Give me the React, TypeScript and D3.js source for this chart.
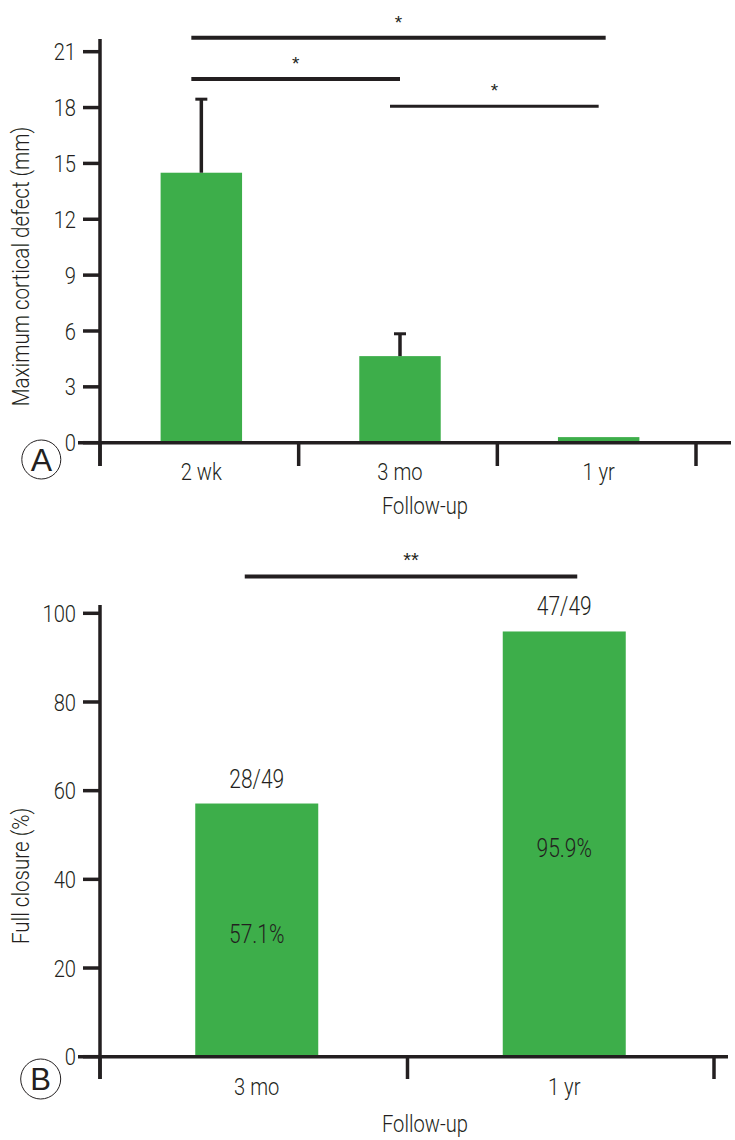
import React from "react";
import * as d3 from "d3";

// ---------- Data ----------
const catsA = ["2 wk", "3 mo", "1 yr"];
const meanA = [14.5, 4.65, 0.3];
const sdA = [3.95, 1.2, 0];
const ticksA = [0, 3, 6, 9, 12, 15, 18, 21];
const sigA = [
  { a: 0, b: 2, y: 21.75, label: "*", w: 4 },
  { a: 0, b: 1, y: 19.53, label: "*", w: 4 },
  { a: 1, b: 2, y: 18.07, label: "*", w: 3 },
];

const catsB = ["3 mo", "1 yr"];
const valB = [57.1, 95.9];
const fracB = ["28/49", "47/49"];
const pctB = ["57.1%", "95.9%"];
const ticksB = [0, 20, 40, 60, 80, 100];
const sigB = [{ a: 0, b: 1, y: 108.3, label: "**", w: 4 }];

const GREEN = "#3dae4a";
const INK = "#231f20";
const FONT = "Roboto, 'Liberation Sans', sans-serif";
const FONT_REG = "'Liberation Sans', Arial, sans-serif";
const SX = 0.84;

type TProps = {
  x: number;
  y: number;
  size: number;
  anchor?: "start" | "middle" | "end";
  rotate?: number;
  dy?: string;
  children: React.ReactNode;
};

function T({ x, y, size, anchor = "middle", rotate = 0, dy, children }: TProps) {
  return (
    <text
      transform={`translate(${x},${y}) rotate(${rotate}) scale(${SX},1)`}
      textAnchor={anchor}
      dy={dy}
      fontFamily={FONT}
      fontWeight={300}
      fontSize={size}
      fill={INK}
    >
      {children}
    </text>
  );
}

export default function App() {
  // Panel A scales
  const xA = d3.scaleBand<string>().domain(catsA).range([100, 696]).padding(0);
  const yA = d3.scaleLinear().domain([0, 21]).range([442.7, 51.7]);
  const cxA = (i: number) => (xA(catsA[i]) as number) + xA.bandwidth() / 2 + 2;
  const bwA = xA.bandwidth() * 0.41;

  // Panel B scales
  const xB = d3.scaleBand<string>().domain(catsB).range([100, 715]).padding(0);
  const yB = d3.scaleLinear().domain([0, 100]).range([1056.7, 613.3]);
  const cxB = (i: number) => (xB(catsB[i]) as number) + xB.bandwidth() / 2 + 3;
  const bwB = xB.bandwidth() * 0.4;

  const bandEdgesA = [...catsA.map((c) => xA(c) as number), 696];
  const bandEdgesB = [...catsB.map((c) => xB(c) as number), 714];

  return (
    <svg
      width={735}
      height={1140}
      style={{ position: "absolute", left: 0, top: 0, display: "block", background: "#fff" }}
    >
      {/* ================= Panel A ================= */}
      <g>
        {catsA.map((c, i) => (
          <rect
            key={c}
            x={cxA(i) - bwA / 2}
            y={yA(meanA[i])}
            width={bwA}
            height={yA(0) - yA(meanA[i])}
            fill={GREEN}
          />
        ))}
        {catsA.map((c, i) =>
          sdA[i] > 0 ? (
            <g key={"e" + c}>
              <line
                x1={cxA(i)}
                x2={cxA(i)}
                y1={yA(meanA[i])}
                y2={yA(meanA[i] + sdA[i])}
                stroke={INK}
                strokeWidth={3.5}
              />
              <line
                x1={cxA(i) - 6}
                x2={cxA(i) + 6}
                y1={yA(meanA[i] + sdA[i])}
                y2={yA(meanA[i] + sdA[i])}
                stroke={INK}
                strokeWidth={3}
              />
            </g>
          ) : null
        )}
        <line x1={100} x2={100} y1={39} y2={466} stroke={INK} strokeWidth={3.5} />
        {ticksA.map((t) => (
          <g key={"ta" + t}>
            <line x1={83} x2={100} y1={yA(t)} y2={yA(t)} stroke={INK} strokeWidth={3.5} />
            <T x={76} y={yA(t)} dy="0.36em" anchor="end" size={24}>
              {t}
            </T>
          </g>
        ))}
        <line x1={78} x2={731} y1={yA(0)} y2={yA(0)} stroke={INK} strokeWidth={3.5} />
        {bandEdgesA.map((x, i) => (
          <line key={"xa" + i} x1={x} x2={x} y1={yA(0)} y2={466} stroke={INK} strokeWidth={3.5} />
        ))}
        {catsA.map((c, i) => (
          <T key={"la" + c} x={cxA(i)} y={480} size={24}>
            {c}
          </T>
        ))}
        <T x={425} y={514} size={24}>
          Follow-up
        </T>
        <T x={29} y={266.5} rotate={-90} size={24.5}>
          Maximum cortical defect (mm)
        </T>
        {sigA.map((s, i) => {
          const x1 = cxA(s.a) - 10;
          const x2 = cxA(s.b) + (s.b === catsA.length - 1 && s.a === 0 ? 7 : 0);
          return (
            <g key={"sa" + i}>
              <line x1={x1} x2={x2} y1={yA(s.y)} y2={yA(s.y)} stroke={INK} strokeWidth={s.w} />
              <text
                x={(x1 + x2) / 2}
                y={yA(s.y) - 9}
                textAnchor="middle"
                fontFamily={FONT_REG}
                fontSize={19}
                fill={INK}
              >
                {s.label}
              </text>
            </g>
          );
        })}
        <circle cx={41.3} cy={459.5} r={19.5} fill="none" stroke={INK} strokeWidth={1} />
        <text
          x={41.3}
          y={459.5}
          dy="0.36em"
          textAnchor="middle"
          fontFamily={FONT_REG}
          fontSize={32}
          fill={INK}
        >
          A
        </text>
      </g>

      {/* ================= Panel B ================= */}
      <g>
        {catsB.map((c, i) => (
          <rect
            key={c}
            x={cxB(i) - bwB / 2}
            y={yB(valB[i])}
            width={bwB}
            height={yB(0) - yB(valB[i])}
            fill={GREEN}
          />
        ))}
        {catsB.map((c, i) => (
          <g key={"lb" + c}>
            <T x={cxB(i)} y={yB(valB[i]) - 16} size={25}>
              {fracB[i]}
            </T>
            <T x={cxB(i)} y={yB(valB[i] / 2) + 4} dy="0.36em" size={25}>
              {pctB[i]}
            </T>
          </g>
        ))}
        <line x1={100} x2={100} y1={605} y2={1079} stroke={INK} strokeWidth={3.5} />
        {ticksB.map((t) => (
          <g key={"tb" + t}>
            <line x1={83} x2={100} y1={yB(t)} y2={yB(t)} stroke={INK} strokeWidth={3.5} />
            <T x={76} y={yB(t)} dy="0.36em" anchor="end" size={24}>
              {t}
            </T>
          </g>
        ))}
        <line x1={78} x2={728} y1={yB(0)} y2={yB(0)} stroke={INK} strokeWidth={3.5} />
        {bandEdgesB.map((x, i) => (
          <line key={"xb" + i} x1={x} x2={x} y1={yB(0)} y2={1079} stroke={INK} strokeWidth={3.5} />
        ))}
        {catsB.map((c, i) => (
          <T key={"cb" + c} x={cxB(i)} y={1095} size={24}>
            {c}
          </T>
        ))}
        <T x={425} y={1132} size={24}>
          Follow-up
        </T>
        <T x={29} y={876} rotate={-90} size={24.5}>
          Full closure (%)
        </T>
        {sigB.map((s, i) => {
          const x1 = cxB(s.a) - 12;
          const x2 = cxB(s.b) + 13;
          return (
            <g key={"sb" + i}>
              <line x1={x1} x2={x2} y1={yB(s.y)} y2={yB(s.y)} stroke={INK} strokeWidth={s.w} />
              <text
                x={(x1 + x2) / 2}
                y={yB(s.y) - 9}
                textAnchor="middle"
                fontFamily={FONT_REG}
                fontSize={20}
                fill={INK}
              >
                {s.label}
              </text>
            </g>
          );
        })}
        <circle cx={40.7} cy={1079} r={20} fill="none" stroke={INK} strokeWidth={1} />
        <text
          x={40.7}
          y={1079}
          dy="0.36em"
          textAnchor="middle"
          fontFamily={FONT_REG}
          fontSize={31}
          fill={INK}
        >
          B
        </text>
      </g>
    </svg>
  );
}
